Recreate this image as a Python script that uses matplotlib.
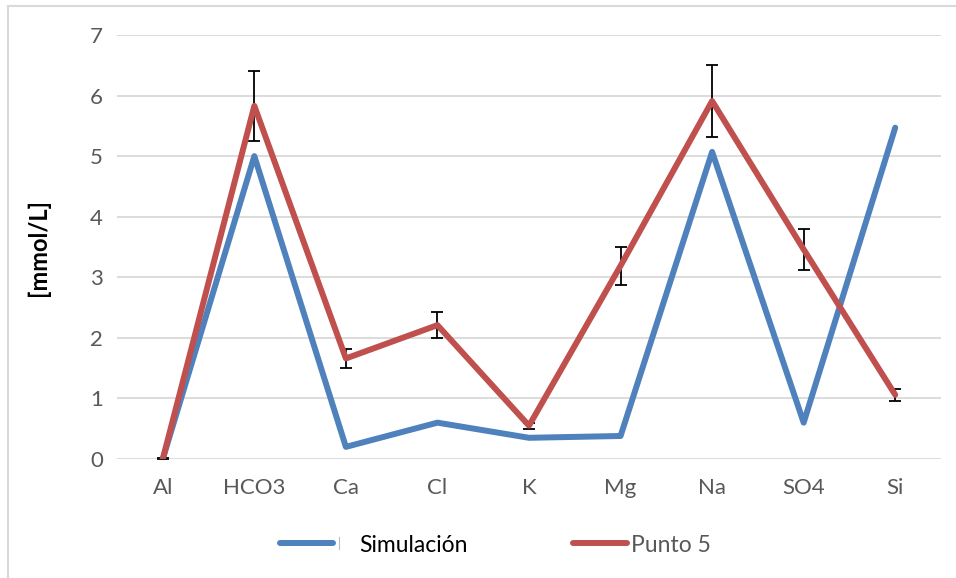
import numpy as np
import matplotlib as mpl
mpl.use('Agg')
import matplotlib.pyplot as plt
from matplotlib.lines import Line2D

plt.rcParams['font.family'] = ['Lato', 'DejaVu Sans']

# concentraciones por ion
iones = ["Al", "HCO3", "Ca", "Cl", "K", "Mg", "Na", "SO4", "Si"]
simulacion = [0.0, 5.0, 0.2, 0.6, 0.35, 0.38, 5.07, 0.6, 5.47]
punto5 = [0.0, 5.83, 1.66, 2.21, 0.55, 3.19, 5.91, 3.46, 1.06]
punto5_err = [0.02, 0.58, 0.16, 0.22, 0.05, 0.31, 0.59, 0.34, 0.1]

azul = "#4F81BD"
rojo = "#C0504D"
gris = "#595959"

fig = plt.figure(figsize=(9.56, 5.78), dpi=100)
ax = fig.add_axes([117/956, 1 - 459/578, 824/956, 424/578])

x = np.arange(len(iones))
ax.plot(x, simulacion, color=azul, lw=4.3, solid_joinstyle='round',
        solid_capstyle='round', zorder=3)
ax.errorbar(x, punto5, yerr=punto5_err, fmt='none', ecolor='black',
            elinewidth=1.3, capsize=4.3, capthick=1.3, zorder=4)
ax.plot(x, punto5, color=rojo, lw=4.3, solid_joinstyle='round',
        solid_capstyle='round', zorder=5)

ax.set_xlim(-0.5, len(iones) - 0.5)
ax.set_ylim(0, 7)
ax.set_yticks(range(0, 8))
ax.set_xticks(x)
ax.set_xticklabels(iones)
ax.grid(axis='y', color='#D9D9D9', lw=1.3)
ax.set_axisbelow(True)
for s in ax.spines.values():
    s.set_visible(False)
ax.tick_params(length=0, labelsize=16, labelcolor=gris)
ax.tick_params(axis='x', pad=14)
ax.tick_params(axis='y', pad=10)

ax.set_ylabel("[mmol/L]", fontsize=17, fontweight='bold', color='black')
ax.yaxis.set_label_coords(-67/824, 0.5)

# leyenda dibujada a mano
def fx(px):
    return px / 956

def fy(py):
    return 1 - py / 578

fig.add_artist(Line2D([fx(280), fx(333)], [fy(543), fy(543)], color=azul,
                      lw=4.3, solid_capstyle='round'))
fig.add_artist(Line2D([fx(339), fx(339)], [fy(537), fy(549)], color='#BFBFBF', lw=0.8))
fig.text(fx(359), fy(545), "Simulación", fontsize=16.5, color='black', va='center')
fig.add_artist(Line2D([fx(573), fx(627)], [fy(543), fy(543)], color=rojo,
                      lw=4.3, solid_capstyle='round'))
fig.text(fx(631), fy(545), "Punto 5", fontsize=16.5, color=gris, va='center')

# marco del gráfico
fig.add_artist(Line2D([fx(8), fx(956)], [fy(6), fy(6)], color='#D9D9D9', lw=1.5))
fig.add_artist(Line2D([fx(8), fx(8)], [fy(6), fy(578)], color='#D9D9D9', lw=1.5))

plt.savefig("out.png", dpi=100)
plt.close()
